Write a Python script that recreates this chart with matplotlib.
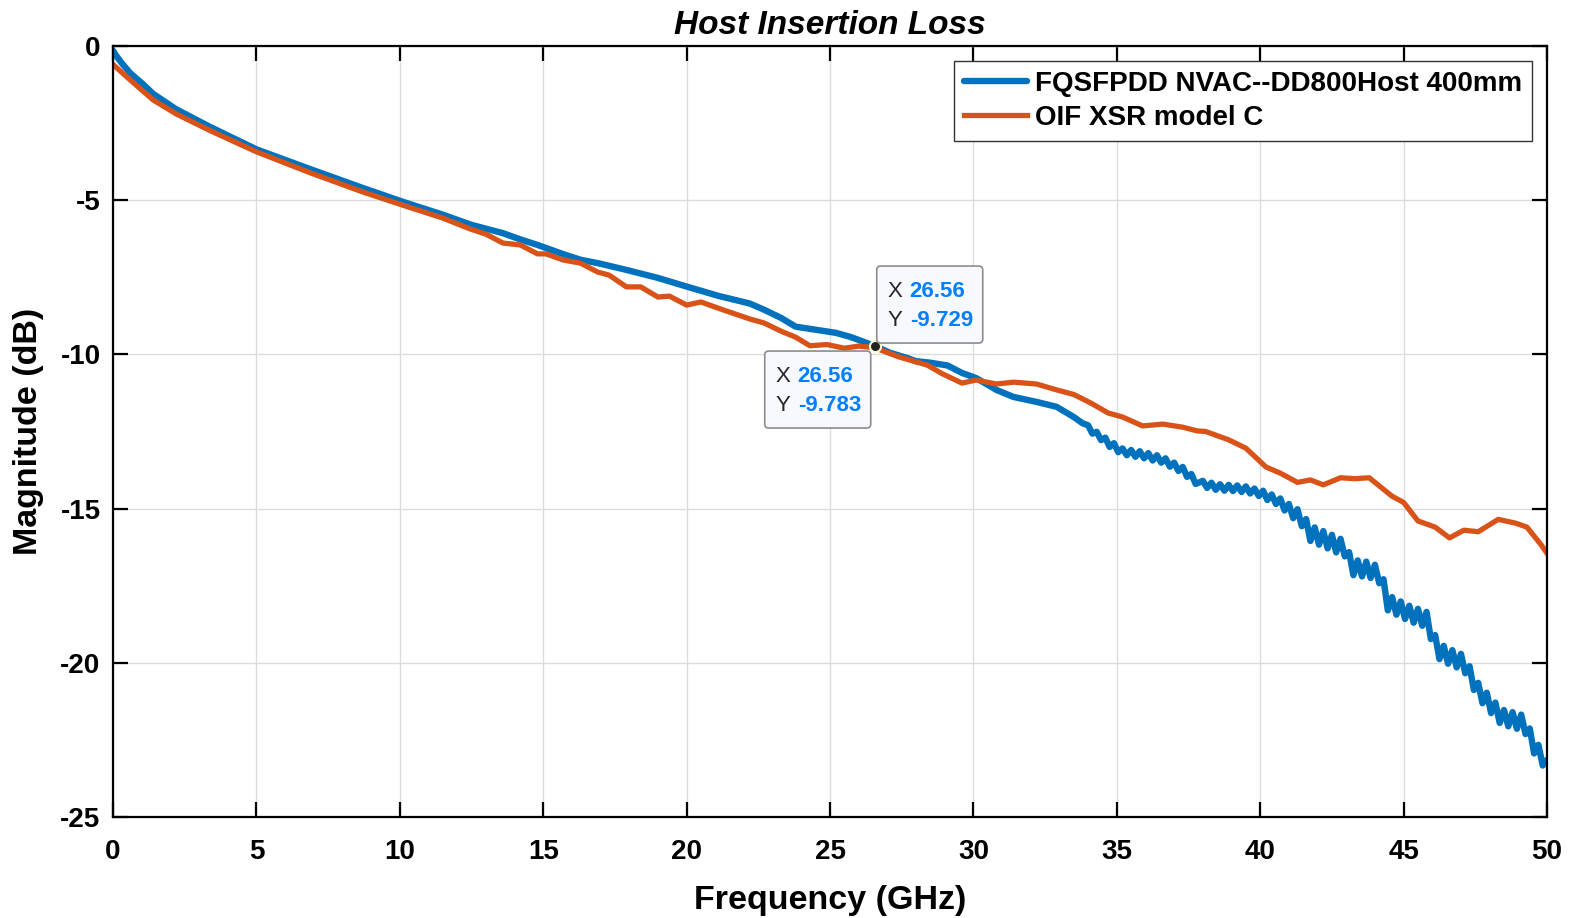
import numpy as np
import matplotlib.pyplot as plt
from matplotlib.patches import FancyBboxPatch

# Data
blue_f = [0.0, 0.1, 0.3, 0.6, 1.0, 1.4, 2.2, 3.4, 5.0, 6.9, 8.7, 10.1, 11.5, 12.5,
          13.6, 14.2, 14.8, 15.7, 16.3, 16.9, 17.9, 19.0, 20.0, 21.1, 22.2, 22.7,
          23.3, 23.8, 24.5, 25.2, 25.7, 26.0, 26.56, 27.1, 27.7, 28.0, 28.5, 29.1,
          29.6, 30.1, 30.8, 31.4, 32.2, 32.9, 33.5, 33.8,
          34.00, 34.15, 34.30, 34.45, 34.60, 34.75, 34.90, 35.05, 35.20, 35.35,
          35.50, 35.65, 35.80, 35.95, 36.10, 36.25, 36.40, 36.55, 36.70, 36.85,
          37.00, 37.15, 37.30, 37.45, 37.60, 37.75,
          38.00, 38.15, 38.30, 38.45, 38.60, 38.75, 38.90, 39.05, 39.20, 39.35,
          39.50, 39.65, 39.80, 39.95, 40.10, 40.25, 40.40, 40.55, 40.70, 40.85,
          41.00, 41.15, 41.30, 41.45, 41.60, 41.75, 41.90, 42.05, 42.20, 42.35,
          42.50, 42.65, 42.80, 42.95, 43.10, 43.25, 43.40, 43.55, 43.70, 43.85,
          44.00, 44.15, 44.30, 44.45, 44.60, 44.75, 44.90, 45.05, 45.20, 45.35,
          45.50, 45.65, 45.80, 45.95, 46.10, 46.25, 46.40, 46.55, 46.70, 46.85,
          47.00, 47.15, 47.30, 47.45, 47.60, 47.75, 47.90, 48.05, 48.20, 48.35,
          48.50, 48.65, 48.80, 48.95, 49.10, 49.25, 49.40, 49.55, 49.70, 49.85,
          50.00]
blue_db = [-0.15, -0.3, -0.55, -0.88, -1.2, -1.55, -2.05, -2.63, -3.35, -4.0, -4.6,
           -5.05, -5.47, -5.8, -6.07, -6.27, -6.45, -6.75, -6.93, -7.04, -7.26, -7.52,
           -7.8, -8.1, -8.35, -8.55, -8.82, -9.1, -9.2, -9.3, -9.43, -9.53, -9.729,
           -9.95, -10.12, -10.22, -10.27, -10.36, -10.6, -10.77, -11.15, -11.38,
           -11.54, -11.7, -12.03, -12.23,
           -12.30, -12.57, -12.51, -12.78, -12.70, -13.00, -12.88, -13.17, -13.05, -13.27,
           -13.10, -13.32, -13.14, -13.37, -13.20, -13.44, -13.27, -13.51, -13.37, -13.64,
           -13.51, -13.78, -13.65, -13.97, -13.88, -14.20,
           -14.10, -14.33, -14.16, -14.39, -14.21, -14.42, -14.23, -14.43, -14.25, -14.46,
           -14.28, -14.51, -14.35, -14.59, -14.42, -14.72, -14.54, -14.85, -14.67, -15.06,
           -14.85, -15.31, -15.02, -15.57, -15.34, -16.05, -15.61, -16.17, -15.73, -16.29,
           -15.85, -16.42, -15.98, -16.55, -16.41, -17.16, -16.68, -17.20, -16.72, -17.25,
           -16.82, -17.42, -17.29, -18.30, -17.87, -18.44, -18.01, -18.58, -18.15, -18.70,
           -18.25, -18.80, -18.35, -19.23, -19.10, -19.88, -19.45, -20.03, -19.59, -20.15,
           -19.71, -20.34, -20.11, -20.88, -20.65, -21.31, -20.97, -21.63, -21.29, -21.95,
           -21.53, -22.06, -21.60, -22.14, -21.68, -22.31, -22.13, -22.94, -22.66, -23.33,
           -23.15]

orange_f = [0.0, 0.3, 0.6, 1.4, 2.2, 3.4, 5.0, 6.9, 8.7, 10.1, 11.5, 12.45, 13.0,
            13.6, 14.2, 14.8, 15.1, 15.7, 16.3, 16.9, 17.3, 17.9, 18.4, 19.0, 19.4,
            20.0, 20.5, 21.1, 21.6, 22.2, 22.7, 23.3, 23.8, 24.3, 24.9, 25.5, 26.0,
            26.56, 27.4, 28.4, 28.9, 29.6, 30.1, 30.8, 31.4, 32.2, 32.9, 33.5, 34.1,
            34.7, 35.2, 35.9, 36.6, 37.3, 37.8, 38.1, 38.9, 39.5, 40.2, 40.7, 41.3,
            41.75, 42.2, 42.8, 43.3, 43.8, 44.6, 45.0, 45.5, 46.1, 46.6, 47.1, 47.6,
            48.3, 48.9, 49.3, 49.8, 50.0]
orange_db = [-0.6, -0.85, -1.1, -1.75, -2.2, -2.75, -3.43, -4.12, -4.73, -5.16, -5.58,
             -5.93, -6.1, -6.39, -6.45, -6.74, -6.74, -6.94, -7.04, -7.33, -7.43, -7.81,
             -7.81, -8.14, -8.11, -8.4, -8.3, -8.5, -8.66, -8.85, -8.98, -9.25, -9.44,
             -9.72, -9.68, -9.8, -9.73, -9.783, -10.08, -10.35, -10.62, -10.93, -10.83,
             -10.96, -10.9, -10.96, -11.15, -11.3, -11.58, -11.9, -12.03, -12.32, -12.26,
             -12.36, -12.48, -12.5, -12.77, -13.04, -13.65, -13.85, -14.15, -14.07,
             -14.23, -14.0, -14.03, -14.0, -14.6, -14.8, -15.4, -15.6, -15.95, -15.7,
             -15.75, -15.35, -15.47, -15.6, -16.18, -16.45]

labels = ["FQSFPDD NVAC--DD800Host 400mm", "OIF XSR model C"]
tip_x = 26.56
tip_blue_y = -9.729
tip_orange_y = -9.783

plt.rcParams['font.family'] = ['Liberation Sans', 'DejaVu Sans']
plt.rcParams['axes.unicode_minus'] = False

fig = plt.figure(figsize=(15.76, 9.18), dpi=100)
ax = fig.add_axes([113 / 1576, 1 - 817 / 918, (1547 - 113) / 1576, (817 - 46) / 918])

ax.plot(blue_f, blue_db, color='#0072BD', lw=4.6, label=labels[0],
        solid_joinstyle='round', solid_capstyle='round')
ax.plot(orange_f, orange_db, color='#D95319', lw=3.8, label=labels[1],
        solid_joinstyle='round')

ax.set_xlim(0, 50)
ax.set_ylim(-25, 0)
ax.set_xticks(np.arange(0, 51, 5))
ax.set_yticks(np.arange(-25, 1, 5))
ax.grid(True, color='#dcdcdc', lw=1.0)
ax.set_axisbelow(True)
ax.tick_params(direction='in', length=11, width=1.6, top=True, right=True,
               labelsize=20, pad=16)
ax.tick_params(axis='y', pad=9)
for lab in ax.get_xticklabels() + ax.get_yticklabels():
    lab.set_fontweight('bold')
for sp in ax.spines.values():
    sp.set_linewidth(1.6)

ax.set_title('Host Insertion Loss', fontsize=24, fontweight='bold', style='italic', pad=9)
ax.set_xlabel('Frequency (GHz)', fontsize=24.5, fontweight='bold', labelpad=14)
ax.set_ylabel('Magnitude (dB)', fontsize=24.5, fontweight='bold', labelpad=12)

leg = ax.legend(loc='upper right', prop={'size': 20, 'weight': 'bold'},
                fancybox=False, edgecolor='#333333', framealpha=1,
                handlelength=2.25, handletextpad=0.3, borderpad=0.35,
                labelspacing=0.28, borderaxespad=0.55)
leg.get_frame().set_linewidth(1.0)

# data tips
ax.plot([tip_x], [tip_blue_y], 'o', ms=8, mfc='#222222', mec='#fffbd0', mew=1.5, zorder=6)
fig.canvas.draw()
px, py = ax.transData.transform((tip_x, tip_blue_y))


def datatip(x0, y0, xv, yv):
    box = FancyBboxPatch((x0, y0), 106, 77, boxstyle='round,pad=0,rounding_size=4',
                         transform=None, fc='#f8f8ff', ec='#8c8c8c', lw=1.2, zorder=7)
    fig.patches.append(box)
    for dy, key, val in [(52, 'X', xv), (23, 'Y', yv)]:
        fig.text(x0 + 11, y0 + dy, key, transform=None, fontsize=16,
                 va='center', ha='left', color='#262626', zorder=8)
        fig.text(x0 + 33, y0 + dy, val, transform=None, fontsize=16,
                 va='center', ha='left', color='#0080ff', fontweight='bold', zorder=8)


datatip(px + 2, py + 3, f'{tip_x:.2f}', f'{tip_blue_y:.3f}')
datatip(px - 110, py - 82, f'{tip_x:.2f}', f'{tip_orange_y:.3f}')

fig.savefig('out.png', dpi=100)
